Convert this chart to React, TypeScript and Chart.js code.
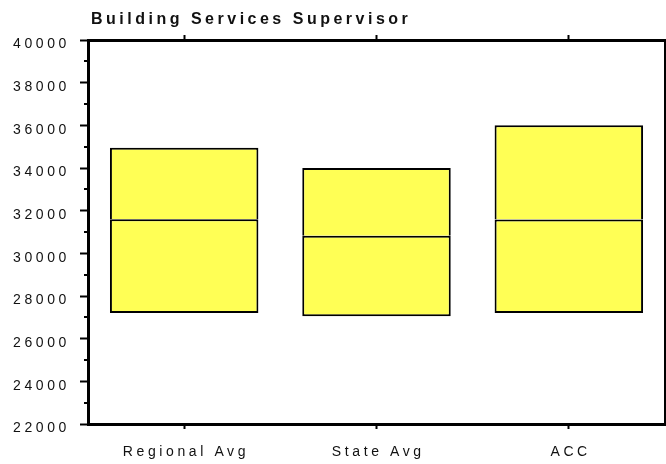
import React, { useEffect, useRef } from "react";
import { Chart, registerables } from "chart.js";

Chart.register(...registerables);

const TITLE = "Building Services Supervisor";
const categories = ["Regional Avg", "State Avg", "ACC"];
const minValues = [27200, 27050, 27200];
const midValues = [31600, 30820, 31590];
const maxValues = [34950, 34000, 36000];
const Y_MIN = 22000;
const Y_MAX = 40000;
const Y_MAJOR = 2000;
const Y_MINOR = 1000;

const FONT = '"Liberation Sans", Arial, Helvetica, sans-serif';
const BAR_COLOR = "#ffff55";

const refPlugin = {
  id: "refStyle",
  beforeDraw(chart: any) {
    chart.ctx.letterSpacing = "3.6px";
  },
  afterDraw(chart: any) {
    const ctx = chart.ctx;
    const y = chart.scales.y;
    ctx.save();
    ctx.strokeStyle = "#000";
    ctx.lineWidth = 2;
    for (let v = Y_MIN + Y_MINOR; v < Y_MAX; v += Y_MAJOR) {
      const py = Math.round(y.getPixelForValue(v));
      ctx.beginPath();
      ctx.moveTo(y.right - 4, py);
      ctx.lineTo(y.right, py);
      ctx.stroke();
    }
    ctx.font = "bold 16px " + FONT;
    ctx.letterSpacing = "3.5px";
    ctx.fillStyle = "#111";
    ctx.textAlign = "left";
    ctx.textBaseline = "alphabetic";
    ctx.fillText(TITLE, 91, 24);
    ctx.restore();
  },
};

export default function App() {
  const ref = useRef<HTMLCanvasElement | null>(null);
  useEffect(() => {
    if (!ref.current) return;
    const lower = categories.map((_, i) => [minValues[i], midValues[i]]);
    const upper = categories.map((_, i) => [midValues[i], maxValues[i]]);
    const common = {
      backgroundColor: BAR_COLOR,
      borderColor: "#000",
      borderWidth: 2,
      inflateAmount: 0,
      grouped: false,
      barPercentage: 0.772,
      categoryPercentage: 1,
    };
    const chart = new Chart(ref.current, {
      type: "bar",
      data: {
        labels: categories,
        datasets: [
          { ...common, data: lower, borderSkipped: false } as any,
          { ...common, data: upper, borderSkipped: "bottom" } as any,
        ],
      },
      options: {
        animation: false,
        responsive: false,
        devicePixelRatio: 1,
        layout: { padding: { top: 35, left: 0, right: 0, bottom: 0 } },
        plugins: { legend: { display: false }, tooltip: { enabled: false }, title: { display: false } },
        scales: {
          x: {
            type: "category",
            position: "bottom",
            offset: true,
            grid: { drawOnChartArea: false, offset: false, tickLength: 5, tickWidth: 2, tickColor: "#000" },
            border: { display: true, color: "#000", width: 3 },
            ticks: { font: { family: FONT, size: 14 }, color: "#111", padding: 15, labelOffset: 1.8, maxRotation: 0 },
            afterFit: (s: any) => { s.height = 40; },
          },
          xTop: {
            type: "category",
            position: "top",
            offset: true,
            grid: { drawOnChartArea: false, offset: false, tickLength: 5, tickWidth: 2, tickColor: "#000" },
            border: { display: true, color: "#000", width: 3 },
            ticks: { display: false },
            afterFit: (s: any) => { s.height = 5; },
          },
          y: {
            type: "linear",
            position: "left",
            min: Y_MIN,
            max: Y_MAX,
            grid: { drawOnChartArea: false, tickLength: 8, tickWidth: 2, tickColor: "#000" },
            border: { display: true, color: "#000", width: 3 },
            ticks: {
              stepSize: Y_MAJOR,
              font: { family: FONT, size: 14 },
              color: "#111",
              padding: 10,
              labelOffset: 4.5,
              callback: (v: any) => String(v),
            },
            afterFit: (s: any) => { s.width = 88; },
          },
          y2: {
            type: "linear",
            position: "right",
            grid: { drawOnChartArea: false, drawTicks: false },
            border: { display: true, color: "#000", width: 3 },
            ticks: { display: false },
            afterFit: (s: any) => { s.width = 1; },
          },
        },
      } as any,
      plugins: [refPlugin],
    });
    return () => chart.destroy();
  }, []);
  return (
    <div style={{ position: "fixed", left: 0, top: 0, width: 666, height: 464, background: "#fff" }}>
      <canvas ref={ref} width={666} height={464} style={{ display: "block", width: 666, height: 464 }} />
    </div>
  );
}
